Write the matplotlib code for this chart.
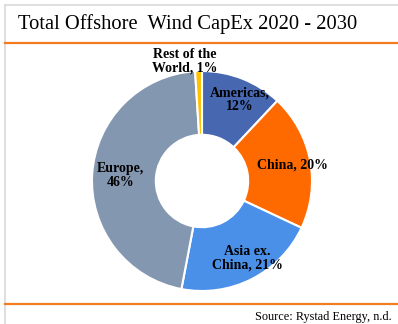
import matplotlib.pyplot as plt
from matplotlib.lines import Line2D
import numpy as np

regions = ['Americas', 'China', 'Asia ex.\nChina', 'Europe', 'Rest of the\nWorld']
shares = [12, 20, 21, 46, 1]
colors = ['#4768B1', '#FF6A00', '#4A90E8', '#8497B0', '#FFC000']
label_sep = ['\n', ' ', ' ', '\n', ' ']

W, H = 398, 324
fig = plt.figure(figsize=(W / 100, H / 100), dpi=100)
fig.patch.set_facecolor('white')

# frame lines (figure pixel coords -> fraction)
def hline(y, x0, x1, color, lw):
    fig.add_artist(Line2D([x0 / W, x1 / W], [1 - y / H, 1 - y / H],
                          color=color, lw=lw, transform=fig.transFigure))

fig.add_artist(Line2D([4.5 / W, 4.5 / W], [1 - 5 / H, 0], color='#D9D9D9',
                      lw=1.2, transform=fig.transFigure))
hline(5, 4.5, W, '#D9D9D9', 1.2)
hline(42.5, 5, W, '#F47C20', 1.6)
hline(304, 5, W, '#F47C20', 1.6)

fig.text(18 / W, 1 - 24 / H, 'Total Offshore  Wind CapEx 2020 - 2030',
         family='Liberation Serif', fontsize=14.8, va='center', ha='left')
fig.text(392 / W, 1 - 317 / H, 'Source: Rystad Energy, n.d.',
         family='Liberation Serif', fontsize=8.8, va='center', ha='right')

cx, cy, r = 202, 181, 110
ax = fig.add_axes([(cx - r) / W, 1 - (cy + r) / H, 2 * r / W, 2 * r / H])
wedges, _ = ax.pie(shares, colors=colors, startangle=90, counterclock=False,
                   radius=1, wedgeprops=dict(width=0.58, edgecolor='white', linewidth=1.5))
ax.set_xlim(-1, 1)
ax.set_ylim(-1, 1)
ax.set_aspect('equal')
ax.axis('off')

for i, w in enumerate(wedges):
    mid = np.deg2rad((w.theta1 + w.theta2) / 2)
    dist, dx, dy = 0.79, 0.05, 0
    if shares[i] < 5:
        dist, dx, dy = 1.13, -0.12, -0.04
    x = dist * np.cos(mid) + dx
    y = dist * np.sin(mid) + dy
    txt = f'{regions[i]},{label_sep[i]}{shares[i]}%'
    ax.text(x, y, txt, ha='center', va='center', family='Liberation Serif',
            fontweight='bold', fontsize=10, linespacing=1.05, clip_on=False)

fig.savefig('out.png', dpi=100)
